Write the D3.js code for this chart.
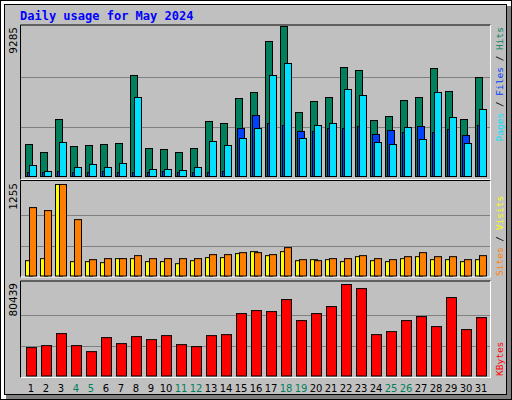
<!DOCTYPE html><html><head><meta charset="utf-8">
<script src="https://cdn.jsdelivr.net/npm/d3@7"></script>
<style>body{margin:0}svg{display:block}</style></head><body>
<svg id="c" width="512" height="400"></svg>
<script>
const days=d3.range(1,32);
const weekend=[4,5,11,12,18,19,25,26];
const hits=[1981,1486,3528,1857,1919,1981,2043,6252,1733,1671,1486,1733,3405,3281,4828,5200,8357,9285,3962,4643,4890,6747,6561,3466,3714,4704,4890,6685,5262,3528,6128];
const files=[248,248,310,248,248,310,248,248,248,310,248,248,248,310,2971,3776,3281,3157,2786,2786,2971,2971,3095,2600,2847,2724,3095,2724,2909,2538,3157];
const pages=[681,310,2105,557,743,557,805,4890,433,433,371,557,2167,1919,2352,2971,6252,6995,2352,3157,3281,5385,5014,2105,1981,3033,2290,5200,3652,2043,4147];
const visits=[210,238,1255,197,197,183,238,238,197,197,169,210,252,252,307,334,279,334,210,224,224,197,265,210,197,238,265,224,224,197,224];
const sites=[938,897,1255,773,224,238,238,279,238,238,238,238,293,293,320,320,293,389,224,210,238,238,279,238,224,265,320,265,265,224,279];
const kbytes=[24933,26693,37253,26693,21413,33733,28453,34613,31973,35493,27573,25813,35493,36373,54853,57493,56613,67173,48693,54853,61013,80439,76839,36373,39013,48693,52213,43413,68933,40773,51333];
const maxHits=9285,maxVisits=1255,maxKB=80439;

const svg=d3.select("#c");
svg.append("rect").attr("width",512).attr("height",400).attr("fill","#fff");
svg.append("rect").attr("x",0.5).attr("y",0.5).attr("width",511).attr("height",399).attr("fill","none").attr("stroke","#000");
svg.append("rect").attr("x",507).attr("y",6).attr("width",4).attr("height",393).attr("fill","#808080");
svg.append("rect").attr("x",6).attr("y",395).attr("width",505).attr("height",4).attr("fill","#808080");
svg.append("rect").attr("x",4.5).attr("y",4.5).attr("width",502).attr("height",390).attr("fill","#c0c0c0").attr("stroke","#000");

svg.append("text").attr("x",20).attr("y",20).text("Daily usage for May 2024")
 .attr("font-family","DejaVu Sans Mono").attr("font-weight","bold").attr("font-size",12).attr("fill","#0000ff");

const x=d3.scaleLinear().domain([1,31]).range([25.5,475.5]);
function panel(y0,y1){
  svg.append("path").attr("d",`M20.5,${y1}V${y0+0.5}H490.5`).attr("stroke","#000").attr("fill","none");
  svg.append("path").attr("d",`M20.5,${y1-0.5}H490.5V${y0+0.5}`).attr("stroke","#fff").attr("fill","none");
}
function grid(y){[1/3,2/3].forEach(f=>{const yy=Math.round(y(y.domain()[1]*f))+0.5;
  svg.append("line").attr("x1",21).attr("x2",490).attr("y1",yy).attr("y2",yy).attr("stroke","#808080");});}
function bars(data,y,off,w,col){
  svg.append("g").selectAll("rect").data(data).join("rect")
   .attr("x",(d,i)=>x(days[i])+off).attr("width",w)
   .attr("y",d=>y(d)).attr("height",d=>y(0)-y(d))
   .attr("fill",col).attr("stroke","#000").attr("stroke-width",1);
}
function vlabel(xp,yp,anchor,parts,fam,size){
  const t=svg.append("text").attr("transform",`translate(${xp},${yp}) rotate(-90)`).attr("text-anchor",anchor)
   .attr("font-family",fam||"DejaVu Sans Mono").attr("font-size",size||9.5);
  parts.forEach(p=>t.append("tspan").attr("fill",p[1]).text(p[0]));
}

// top
panel(24.5,180);
const yT=d3.scaleLinear().domain([0,maxHits]).range([176.5,26.5]);
grid(yT);
bars(hits,yT,0,7,"#00805c");
bars(files,yT,2,7,"#0040ff");
bars(pages,yT,4,7,"#00e0ff");
vlabel(17,27,"end",[[String(maxHits),"#000"]],"DejaVu Sans",10.5);
vlabel(503,27,"end",[["Pages","#00e0ff"],[" / ","#000"],["Files","#0040ff"],[" / ","#000"],["Hits","#00805c"]]);

// middle
panel(180,277.5);
const yM=d3.scaleLinear().domain([0,maxVisits]).range([276,184.5]);
grid(yM);
bars(visits,yM,0,7,"#ffff00");
bars(sites,yM,4,7,"#ff8000");
vlabel(17,183,"end",[[String(maxVisits),"#000"]],"DejaVu Sans",10.5);
vlabel(503,276,"start",[["Sites","#ff8000"],[" / ","#000"],["Visits","#ffff00"]]);

// bottom
panel(280.5,378);
const yB=d3.scaleLinear().domain([0,maxKB]).range([376,284.5]);
grid(yB);
bars(kbytes,yB,1,10,"#ff0000");
vlabel(17,283,"end",[[String(maxKB),"#000"]],"DejaVu Sans",10.5);
vlabel(503,376,"start",[["KBytes","#ff0000"]]);

svg.append("g").selectAll("text").data(days).join("text")
 .attr("x",d=>x(d)+5.5).attr("y",392).attr("text-anchor","middle")
 .attr("font-family","DejaVu Sans").attr("font-size",10)
 .attr("fill",d=>weekend.includes(d)?"#00805c":"#000").text(d=>d);
</script></body></html>
